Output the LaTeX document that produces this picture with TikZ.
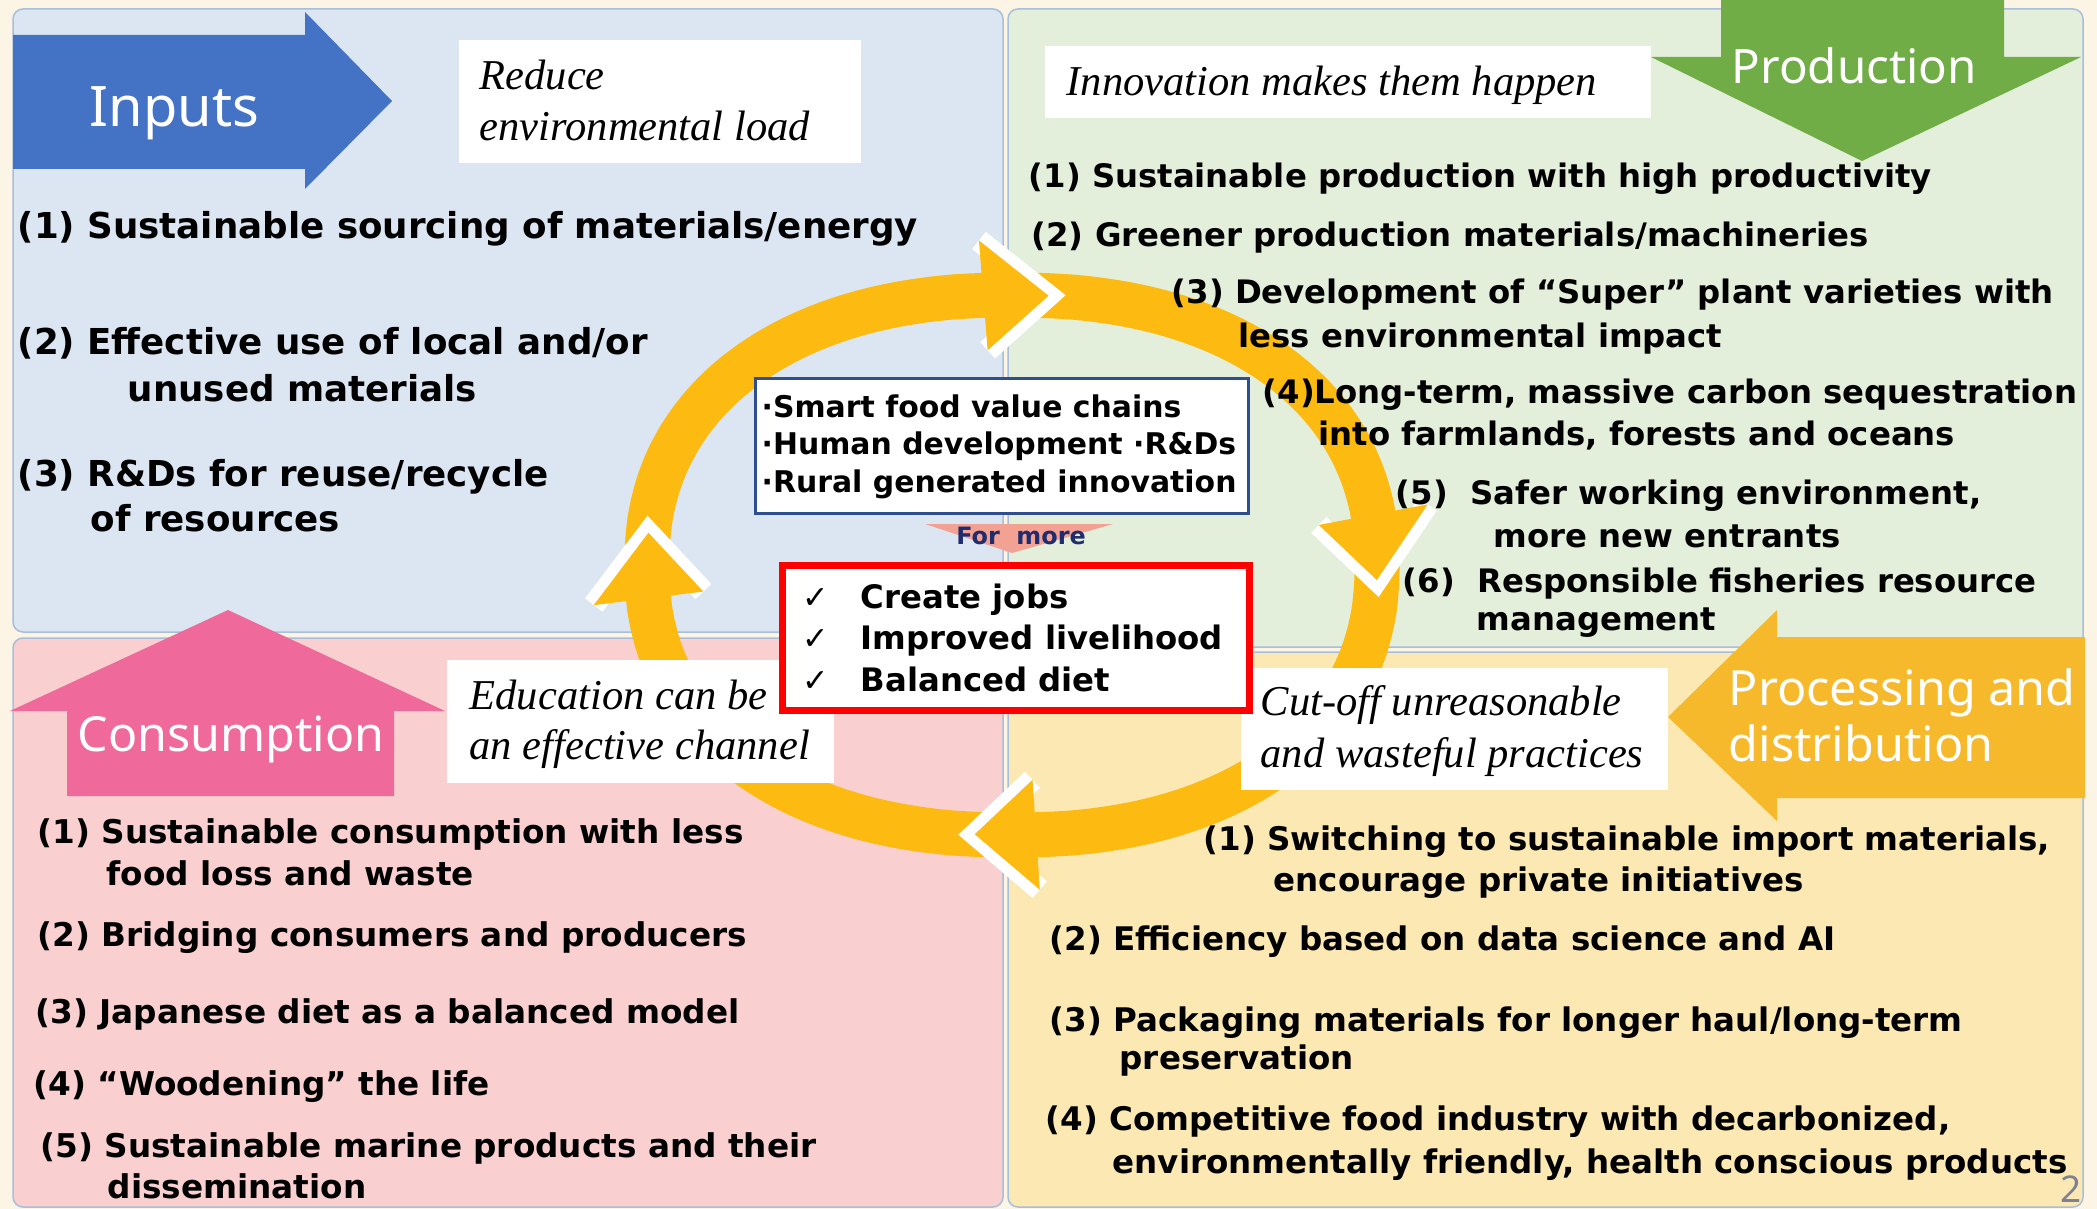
\documentclass[tikz,border=0pt]{standalone}
\usepackage{fontspec}
\setmainfont{DejaVu Sans}
\newfontfamily\titlefont{Noto Sans}
\newfontfamily\serfont{Liberation Serif}
\definecolor{bgcream}{HTML}{FCF4E4}
\definecolor{pblue}{HTML}{DCE6F2}
\definecolor{pgreen}{HTML}{E3EFDA}
\definecolor{ppink}{HTML}{FACFCF}
\definecolor{pyellow}{HTML}{FCE8B2}
\definecolor{pborder}{HTML}{A7BFDB}
\definecolor{arrblue}{HTML}{4472C4}
\definecolor{arrgreen}{HTML}{70AD47}
\definecolor{arrpink}{HTML}{EF6A9A}
\definecolor{arrgold}{HTML}{F6B92C}
\definecolor{ringgold}{HTML}{FDBA10}
\definecolor{boxblue}{HTML}{2F4E8E}
\definecolor{navy}{HTML}{1F2D6E}
\definecolor{pagegray}{HTML}{7F7F95}
\definecolor{formore}{HTML}{F3A192}
\tikzset{
  panel/.style={draw=pborder, line width=0.15mm, rounded corners=1mm},
  item/.style={anchor=base west, inner sep=0pt, font=\bfseries\fontsize{9.2}{11}\selectfont},
  itemM/.style={anchor=base west, inner sep=0pt, font=\bfseries\fontsize{9.3}{11}\selectfont},
  itemP/.style={anchor=base west, inner sep=0pt, font=\bfseries\fontsize{9.25}{11}\selectfont},
  itemL/.style={anchor=base west, inner sep=0pt, font=\bfseries\fontsize{10.15}{12}\selectfont},
  ital/.style={anchor=base west, inner sep=0pt, font=\serfont\itshape\fontsize{12.1}{14}\selectfont},
  ttl/.style={anchor=base west, inner sep=0pt, text=white},
  wbox/.style={fill=white},
  ring/.style={draw=ringgold, line width=4.5mm},
}
\newcommand{\rpt}[3]{%
  \pgfmathsetmacro{\rcA}{cos(#1)}%
  \pgfmathsetmacro{\rsA}{sin(#1)}%
  \pgfmathsetmacro{\rX}{1012+(365+#2)*sign(\rcA)*pow(abs(\rcA)+0.0001,0.9)}%
  \pgfmathsetmacro{\rY}{565-(270+#2)*sign(\rsA)*pow(abs(\rsA)+0.0001,0.9)}%
  \coordinate (#3) at (\rX,\rY);%
}
\newcommand{\rhead}[3]{%
  \rpt{#1}{55}{#3o}\rpt{#1}{-55}{#3i}\rpt{#2}{0}{#3t}%
  \draw[white, line width=2.2mm, line join=miter] (#3o) -- (#3t) -- (#3i);
  \fill[ringgold] (#3o) -- (#3t) -- (#3i) -- cycle;
}
\begin{document}
\begin{tikzpicture}[x=0.1mm, y=-0.1mm]
\useasboundingbox (0,0) rectangle (2097,1209);
\fill[bgcream] (0,0) rectangle (2097,1209);

% panels
\filldraw[panel, fill=pblue] (13,9) rectangle (1003,632);
\filldraw[panel, fill=pgreen] (1008,9) rectangle (2083,647);
\filldraw[panel, fill=ppink] (13,638) rectangle (1003,1207);
\filldraw[panel, fill=pyellow] (1008,652) rectangle (2083,1207);

% big arrows
\fill[arrblue] (13,35) -- (305,35) -- (305,12) -- (392,101) -- (305,189) -- (305,169) -- (13,169) -- cycle;
\fill[arrgreen] (1721,0) -- (2004,0) -- (2004,57) -- (2081,57) -- (1862,161) -- (1651,57) -- (1721,57) -- cycle;
\fill[arrpink] (228,610) -- (445,711) -- (394,711) -- (394,796) -- (67,796) -- (67,711) -- (10,711) -- cycle;
\fill[arrgold] (1668,717) -- (1777,610) -- (1777,637) -- (2085,637) -- (2085,798) -- (1777,798) -- (1777,821) -- cycle;

% ring
\draw[ring] plot[domain=0.5:360.5, samples=361, variable=\t]
  ({1012+365*sign(cos(\t))*pow(abs(cos(\t))+0.0001,0.9)},{565-270*sign(sin(\t))*pow(abs(sin(\t))+0.0001,0.9)}) -- cycle;
\rhead{93.4}{85.6}{hT}
\rhead{8.8}{-2.3}{hR}
\rhead{-87.2}{-94.5}{hB}
\rhead{185.6}{174.6}{hL}

% white boxes
\fill[wbox] (459,40) rectangle (861,163);
\fill[wbox] (1045,46) rectangle (1651,118);
\fill[wbox] (447,660) rectangle (834,783);
\fill[wbox] (1241,668) rectangle (1668,790);

% centre boxes
\filldraw[fill=white, draw=boxblue, line width=0.3mm] (755.5,378.5) rectangle (1248.5,513.5);
\fill[formore] (925,524) -- (1113,524) -- (1012,553) -- cycle;
\filldraw[fill=white, draw=red, line width=0.7mm] (782.5,565.5) rectangle (1249.5,710.5);

% titles
\node[ttl, font=\titlefont\fontsize{15.9}{18}\selectfont] (tin) at (89,127) {Inputs};
\node[ttl, font=\titlefont\fontsize{13.5}{16}\selectfont] (tpr) at (1731,84) {Production};
\node[ttl, font=\titlefont\fontsize{13.75}{16}\selectfont] (tco) at (77,751) {Consumption};
\node[ttl, font=\titlefont\fontsize{13.8}{16}\selectfont] (tpd1) at (1728,705) {Processing and};
\node[ttl, font=\titlefont\fontsize{13.8}{16}\selectfont] (tpd2) at (1728,761) {distribution};

% italic notes
\node[ital] (n1a) at (479,90) {Reduce};
\node[ital] (n1b) at (479,141) {environmental load};
\node[ital] (n2) at (1066,96) {Innovation makes them happen};
\node[ital] (n3a) at (469,709) {Education can be};
\node[ital] (n3b) at (469,759) {an effective channel};
\node[ital] (n4a) at (1260,715) {Cut-off unreasonable};
\node[ital] (n4b) at (1260,767) {and wasteful practices};

% inputs items
\node[itemL] (i1) at (17,239) {(1) Sustainable sourcing of materials/energy};
\node[itemL] (i2a) at (17,355) {(2) Effective use of local and/or};
\node[itemL] (i2b) at (127,402) {unused materials};
\node[itemL] (i3a) at (17,486) {(3) R\&Ds for reuse/recycle};
\node[itemL] (i3b) at (90,531) {of resources};

% production items
\node[item] (p1) at (1028,188) {(1) Sustainable production with high productivity};
\node[item] (p2) at (1031,247) {(2) Greener production materials/machineries};
\node[item] (p3a) at (1171,304) {(3) Development of “Super” plant varieties with};
\node[item] (p3b) at (1238,347) {less environmental impact};
\node[item] (p4a) at (1262,404) {(4)Long-term, massive carbon sequestration};
\node[item] (p4b) at (1318,445) {into farmlands, forests and oceans};
\node[item] (p5a) at (1395,504) {(5)\ \ Safer working environment,};
\node[item] (p5b) at (1493,547) {more new entrants};
\node[item] (p6a) at (1402,592) {(6)\ \ Responsible fisheries resource};
\node[item] (p6b) at (1476,630) {management};

% consumption items
\node[itemM] (c1a) at (37,843) {(1) Sustainable consumption with less};
\node[itemM] (c1b) at (106,885) {food loss and waste};
\node[itemM] (c2) at (37,946) {(2) Bridging consumers and producers};
\node[itemM] (c3) at (35,1023) {(3) Japanese diet as a balanced model};
\node[itemM] (c4) at (33,1095) {(4) “Woodening” the life};
\node[itemM] (c5a) at (40,1157) {(5) Sustainable marine products and their};
\node[itemM] (c5b) at (107,1198) {dissemination};

% processing items
\node[itemP] (d1a) at (1203,850) {(1) Switching to sustainable import materials,};
\node[itemP] (d1b) at (1273,891) {encourage private initiatives};
\node[itemP] (d2) at (1049,950) {(2) Efficiency based on data science and AI};
\node[itemP] (d3a) at (1049,1031) {(3) Packaging materials for longer haul/long-term};
\node[itemP] (d3b) at (1119,1069) {preservation};
\node[itemP] (d4a) at (1045,1130) {(4) Competitive food industry with decarbonized,};
\node[itemP] (d4b) at (1112,1173) {environmentally friendly, health conscious products};

% centre texts
\node[item, font=\bfseries\fontsize{8.5}{10}\selectfont] (s1) at (761,418) {·Smart food value chains};
\node[item, font=\bfseries\fontsize{8.5}{10}\selectfont] (s2) at (761,455) {·Human development ·R\&Ds};
\node[item, font=\bfseries\fontsize{8.5}{10}\selectfont] (s3) at (761,493) {·Rural generated innovation};
\node[anchor=base, inner sep=0pt, font=\bfseries\fontsize{6.8}{8}\selectfont, text=navy] (fm) at (1021,544) {For\ \ more};
\node[item, font=\fontsize{9}{11}\selectfont] (k1) at (802,608) {✓};
\node[item, font=\fontsize{9}{11}\selectfont] (k2) at (802,649) {✓};
\node[item, font=\fontsize{9}{11}\selectfont] (k3) at (802,691) {✓};
\node[item] (r1) at (860,608) {Create jobs};
\node[item] (r2) at (860,649) {Improved livelihood};
\node[item] (r3) at (860,691) {Balanced diet};

% page number
\node[anchor=base west, inner sep=0pt, font=\titlefont\fontsize{10.5}{12}\selectfont, text=pagegray] (pg) at (2060,1202) {2};
\end{tikzpicture}
\end{document}
